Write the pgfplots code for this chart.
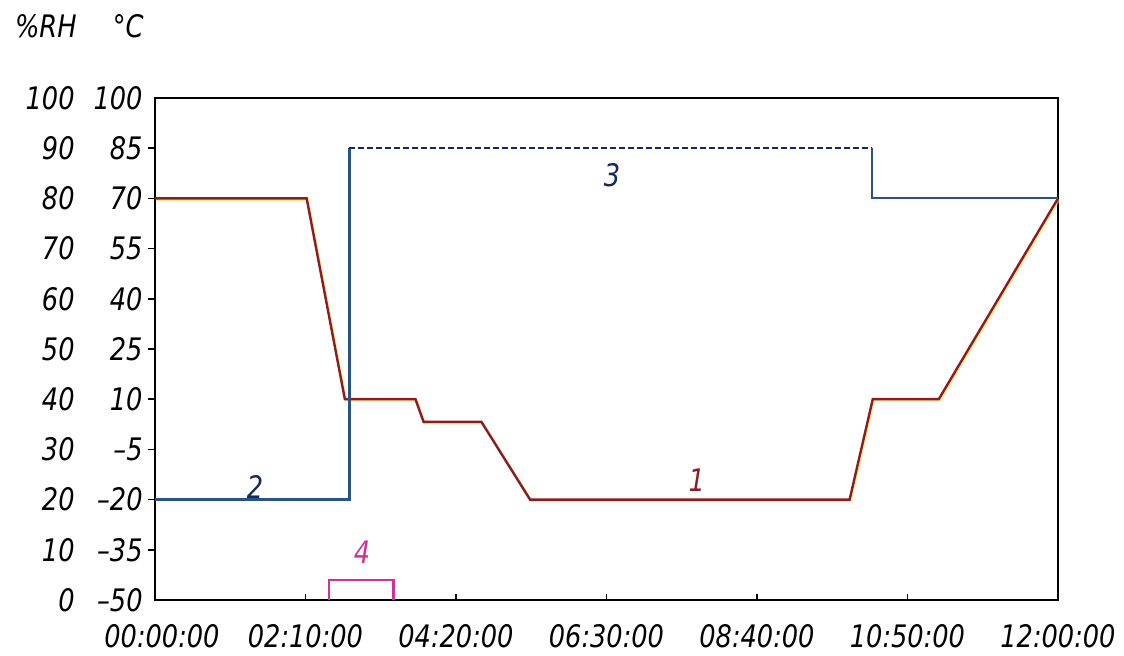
\documentclass[border=0pt]{standalone}
\usepackage{fontspec}
\setmainfont{DejaVu Sans Condensed}[ItalicFont={DejaVu Sans Condensed Oblique}, FakeStretch=0.92]
\usepackage{pgfplots}
\usepackage{pgfplotstable}
\pgfplotsset{compat=1.18}

\definecolor{tempred}{RGB}{140,28,36}
\definecolor{rhblue}{RGB}{40,82,140}
\definecolor{rhdash}{RGB}{22,40,100}
\definecolor{pulse}{RGB}{210,50,150}
\definecolor{halo}{RGB}{250,220,60}

% temperature profile (minutes, degC)
\pgfplotstableread{
t T
0 70
131 70
164 10
225 10
232 3.2
282 3.2
324 -20
600 -20
620 10
677 10
780 70
}\temp

\newcommand{\yl}[2]{\makebox[20pt][r]{#1}\makebox[34pt][r]{#2}}

\begin{document}
\begin{tikzpicture}
\fontsize{15.5}{18}\selectfont\itshape
\begin{axis}[
  scale only axis, width=451.5pt, height=251pt,
  xmin=0, xmax=780, ymin=0, ymax=100,
  axis line style={line width=1pt},
  xtick={0,130,260,390,520,650,780},
  xticklabels={\hspace*{7pt}00:00:00,02:10:00,04:20:00,06:30:00,08:40:00,10:50:00,12:00:00},
  xtick pos=bottom, ytick pos=left, tick align=inside, major tick length=3pt,
  x tick style={black, line width=0.8pt},
  xticklabel style={font=\fontsize{15.5}{18}\selectfont\itshape, yshift=-7pt},
  ytick={0,10,...,100},
  yticklabels={\yl{0}{–50},\yl{10}{–35},\yl{20}{–20},\yl{30}{–5},\yl{40}{10},\yl{50}{25},\yl{60}{40},\yl{70}{55},\yl{80}{70},\yl{90}{85},\yl{100}{100}},
  y tick style={draw=none},
  yticklabel style={font=\fontsize{15.5}{18}\selectfont\itshape, anchor=east, inner sep=0pt, xshift=-6pt},
  clip=false,
]
% short outside ticks on the left axis
\pgfplotsinvokeforeach{10,20,...,90}{\draw[black, line width=0.8pt] (axis cs:0,#1) -- ++(-3.5pt,0);}
% print halo of curve 1
\addplot[halo, line width=1.3pt, opacity=0.6, shift={(0.5pt,-0.6pt)}] table[x=t, y expr=(\thisrow{T}+50)/1.5] {\temp};
% 1: temperature
\addplot[tempred, line width=1.2pt] table[x=t, y expr=(\thisrow{T}+50)/1.5] {\temp};
% 2 and 3: relative humidity
\addplot[rhblue, line width=1.1pt] coordinates {(0,20) (168,20) (168,90)};
\addplot[rhdash, line width=1.1pt, dash pattern=on 3pt off 1.5pt] coordinates {(168,90) (619,90)};
\addplot[rhblue, line width=1.1pt] coordinates {(619,90) (619,80) (780,80)};
% 4: pulse
\addplot[pulse, line width=1.1pt] coordinates {(150,0) (150,4) (206,4) (206,0)};

\node[tempred] at (axis cs:468,23.9) {1};
\node[rhdash] at (axis cs:86.4,22.5) {2};
\node[rhdash] at (axis cs:394.8,84.7) {3};
\node[pulse] at (axis cs:178.8,9.6) {4};

\node[anchor=base east, inner sep=0pt] at ([xshift=-39pt, yshift=30pt]rel axis cs:0,1) {\%RH};
\node[anchor=base east, inner sep=0pt] at ([xshift=-5.5pt, yshift=30pt]rel axis cs:0,1) {°C};
\end{axis}
\pgfresetboundingbox
\path[use as bounding box] ([xshift=-77.5pt, yshift=-28pt]current axis.south west) rectangle ([xshift=33pt, yshift=49pt]current axis.north east);
\end{tikzpicture}
\end{document}
